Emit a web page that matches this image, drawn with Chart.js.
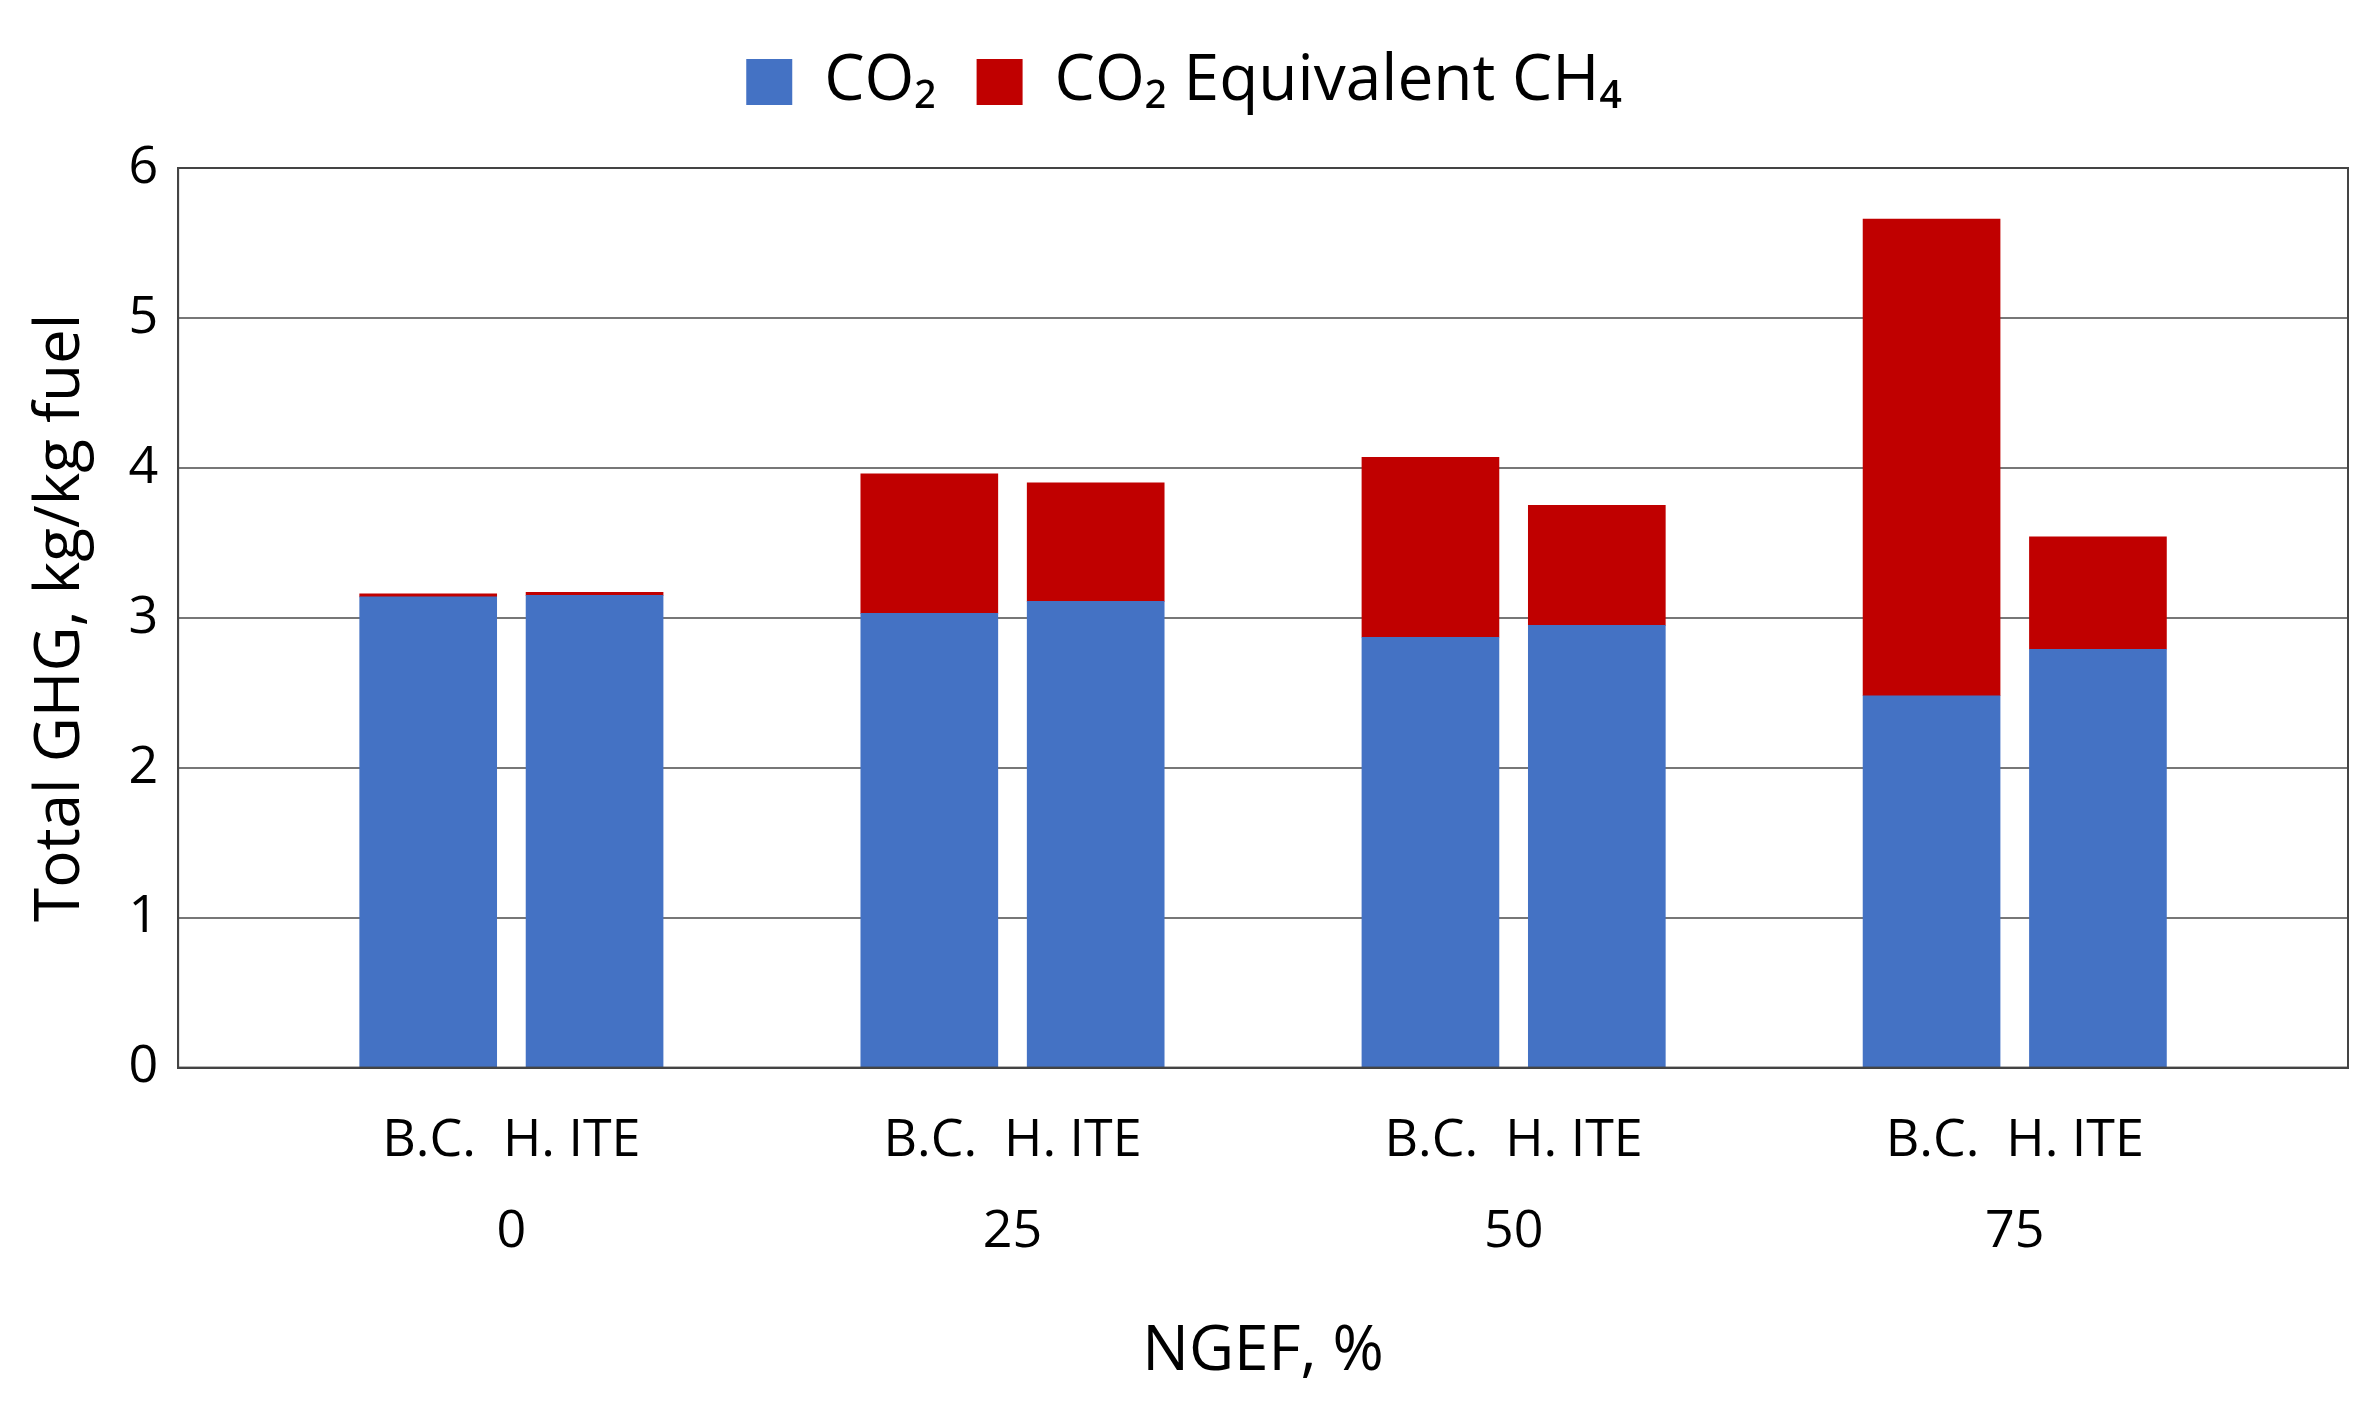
<!DOCTYPE html><html><head><meta charset="utf-8">
<script src="https://cdn.jsdelivr.net/npm/chart.js@4"></script>
<style>html,body{margin:0;background:#fff}#w{width:2374px;height:1424px}</style></head><body>
<div id="w"><canvas id="c"></canvas></div>
<script>
const groups = ["0","25","50","75"];
const subLabel = "B.C.  H. ITE";
const co2BC = [3.14, 3.03, 2.87, 2.48];
const co2HITE = [3.15, 3.11, 2.95, 2.79];
const ch4BC = [0.02, 0.93, 1.20, 3.18];
const ch4HITE = [0.02, 0.79, 0.80, 0.75];
const off = 0.166;
function pts(vals, d){ return vals.map((v,i)=>({x:i+d,y:v})); }
const F = "'Open Sans', sans-serif";
const border = {id:'b',afterDatasetsDraw(c){const a=c.chartArea,x=c.ctx;x.save();x.strokeStyle='#444';x.lineWidth=2;x.strokeRect(a.left,a.top,a.right-a.left,a.bottom-a.top);x.restore();}};
new Chart(document.getElementById('c'),{
type:'bar',
data:{datasets:[
{label:'CO₂',data:pts(co2BC,-off),backgroundColor:'#4472C4',stack:'a'},
{label:'CO₂ Equivalent CH₄',data:pts(ch4BC,-off),backgroundColor:'#C00000',stack:'a'},
{label:'CO₂',data:pts(co2HITE,off),backgroundColor:'#4472C4',stack:'a',hideLegend:true},
{label:'CH4b',data:pts(ch4HITE,off),backgroundColor:'#C00000',stack:'a',hideLegend:true}
]},
plugins:[border],
options:{responsive:true,maintainAspectRatio:false,animation:false,
layout:{padding:{left:20,right:26,top:10,bottom:30}},
datasets:{bar:{barThickness:137,grouped:false}},
plugins:{legend:{labels:{font:{family:F,size:64},color:'#000',boxWidth:46,boxHeight:46,padding:40,
filter:(it,d)=>!d.datasets[it.datasetIndex].hideLegend}},tooltip:{enabled:false}},
scales:{
x:{type:'linear',offset:false,min:-0.665,max:3.665,stacked:true,grid:{display:false,drawTicks:false},border:{color:'#444',width:2},
afterBuildTicks:s=>{s.ticks=[0,1,2,3].map(v=>({value:v}));},
ticks:{autoSkip:false,padding:28,color:'#000',font:{family:F,size:52,lineHeight:1.75},callback:(v)=>[subLabel,groups[v]]},
title:{display:true,text:'NGEF, %',color:'#000',font:{family:F,size:62},padding:{top:10}}},
y:{stacked:true,min:0,max:6,ticks:{stepSize:1,color:'#000',font:{family:F,size:52},padding:20},
grid:{color:'#777',lineWidth:2,drawTicks:false},border:{color:'#444',width:2},
title:{display:true,text:'Total GHG, kg/kg fuel',color:'#000',font:{family:F,size:62},padding:{bottom:10}}}
}},
});
Chart.getChart('c').legend.options.labels.padding=40;
</script>
<script>
// increase gap below legend
(function(){const ch=Chart.getChart('c');const L=ch.legend;const orig=L.fit.bind(L);L.fit=function(){orig();this.height+=44;};ch.update();})();
</script></body></html>
